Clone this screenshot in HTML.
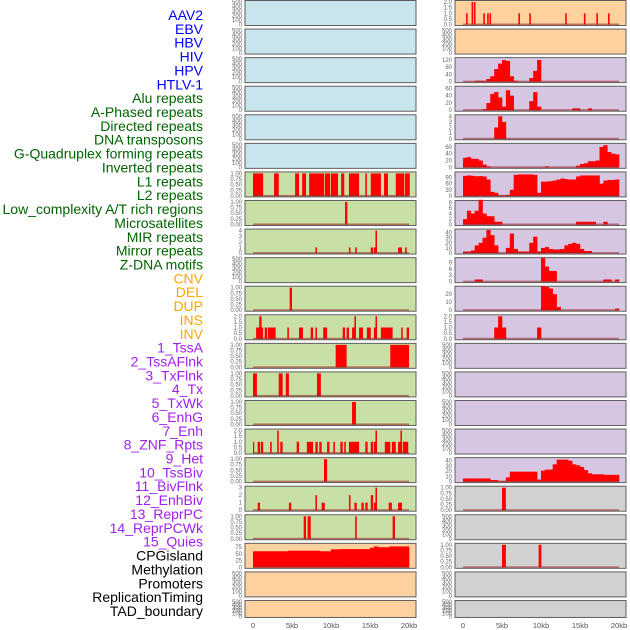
<!DOCTYPE html>
<html><head><meta charset="utf-8"><style>
html,body{margin:0;padding:0;background:#fff;}
svg{display:block;}
</style></head><body>
<svg id="chart" width="630" height="630" viewBox="0 0 630 630" xmlns="http://www.w3.org/2000/svg"></svg>
<script>
// ---- labels ----
const featureLabels = ["AAV2","EBV","HBV","HIV","HPV","HTLV-1","Alu repeats","A-Phased repeats","Directed repeats","DNA transposons","G-Quadruplex forming repeats","Inverted repeats","L1 repeats","L2 repeats","Low_complexity A/T rich regions","Microsatellites","MIR repeats","Mirror repeats","Z-DNA motifs","CNV","DEL","DUP","INS","INV","1_TssA","2_TssAFlnk","3_TxFlnk","4_Tx","5_TxWk","6_EnhG","7_Enh","8_ZNF_Rpts","9_Het","10_TssBiv","11_BivFlnk","12_EnhBiv","13_ReprPC","14_ReprPCWk","15_Quies","CPGisland","Methylation","Promoters","ReplicationTiming","TAD_boundary"];
const labelGroups = [6,13,5,15,5];
const groupColors = ["#0000ff","#006400","#ffa500","#a020f0","#000000"];
const xTickValues = [0,5,10,15,20];
const xTickLabels = ["0","5kb","10kb","15kb","20kb"];
const ticksEmpty = ["0","100","200","300","400","500"];
const ticksUnit = ["0.00","0.25","0.50","0.75","1.00"];
const ticksTwo = ["0.0","0.5","1.0","1.5","2.0"];

// ---- left column segment data: [startKb, endKb, value] ----
const segL6 = [[0,1.3,1],[2.7,3.3,1],[5.4,5.9,1],[6.3,6.8,1],[7.2,9.1,1],[9.2,9.9,1],[10,10.9,1],[11.3,11.7,1],[12.3,13.6,1],[14.4,14.6,1],[15.1,16.4,1],[16.8,17.3,1],[18.3,19.4,1],[19.5,20.1,1]];
const segL7 = [[11.8,12.1,1]];
const segL8 = [[8.0,8.2,1],[12.3,12.5,1],[13.1,13.3,1],[15.1,15.4,1],[15.5,15.9,1],[15.7,15.9,4],[18.6,19.1,1],[19.5,19.7,1]];
const segL10 = [[4.7,5.0,1]];
const segL11 = [[0.4,1.3,1],[0.8,1.1,2],[1.5,1.8,1],[1.9,2.9,1],[4.4,4.6,1],[5.9,6.4,1],[7.4,7.7,1],[8,8.2,1],[9,9.5,1],[11.5,11.8,1],[12,12.3,1],[12.7,13.2,1],[13.0,13.2,2],[13.6,14.1,1],[14.6,15.1,1],[15.5,15.9,1],[15.7,15.9,2],[16.4,17.9,1],[19,19.2,1],[19.7,20,1]];
const segL12 = [[10.6,12.0,1],[17.6,20,1]];
const segL13 = [[0,0.5,1],[3.3,3.8,1],[4.2,4.6,1],[8.2,8.7,1]];
const segL14 = [[12.7,13.2,1]];
const segL15 = [[0,0.15,1],[0.6,0.9,1],[1,1.3,1],[2.2,2.4,1],[3.1,3.3,2],[3.5,3.8,1],[5.6,5.9,1],[6.9,7.7,1],[8,8.3,1],[8.5,8.8,1],[9.5,9.8,1],[10.3,10.5,1],[11.2,11.5,1],[11.7,11.9,1],[12.3,13.6,1],[14.4,14.7,1],[15.1,15.4,1],[15.5,15.9,1],[15.7,15.9,2],[16.9,17.6,1],[17.8,18.3,1],[18.6,19.1,1],[18.9,19.1,2],[19.2,19.9,1]];
const segL16 = [[9.1,9.5,1]];
const segL17 = [[0.6,0.9,1],[4.6,4.9,1],[8,8.2,2],[8.8,9.2,1],[12.3,12.5,2],[13,13.3,1],[13.9,14.2,1],[14.4,14.7,1],[15.1,15.4,2],[15.5,15.9,1],[15.7,15.9,3],[17.4,17.8,1],[18.6,19.1,1]];
const segL18 = [[6.5,6.8,1],[7,7.4,1],[13.1,13.3,1],[17.9,18.2,1]];
const histL19 = [60,60,60,60,60,60,60,60,60,62,62,62,62,62,62,62,62,60,60,60,67,67,68,68,68,68,68,68,68,68,73,78,75,75,75,78,78,78,78,78];

// ---- right column data ----
const segR0 = [[0.4,0.6,1],[1.1,1.3,2],[1.4,1.6,2],[2.6,2.8,1],[3.1,3.3,1],[3.4,3.6,1],[7.1,7.3,1],[8.5,8.7,1],[13.1,13.3,1],[15.5,15.7,1],[17.1,17.3,1],[18.6,18.8,1]];
const histR2 = [0,0,0,5,5,5,15,30,70,100,120,115,30,5,0,0,0,20,60,120,0,0,0,0,0,0,0,0,0,0,0,0,0,0,0,0,0,0,0,0];
const histR3 = [0,0,0,0,0,3,20,45,50,35,10,55,40,0,0,0,0,25,50,10,0,0,0,0,0,0,0,0,5,5,0,0,5,0,0,0,0,0,0,0];
const histR4 = [0,0,0,0,0,0,0,0,2,4,3,0,0,0,0,0,0,0,0,0,0,0,0,0,0,0,0,0,0,0,0,0,0,0,0,0,0,0,0,0];
const histR5 = [28,30,25,25,20,8,3,0,0,0,0,0,0,0,0,0,0,0,0,0,0,3,0,0,0,0,0,0,0,5,10,12,18,18,20,60,65,45,40,38];
const histR6 = [98,100,98,96,97,95,80,20,15,3,3,5,30,103,105,105,105,105,103,15,70,70,72,75,80,85,82,80,80,95,100,100,100,100,100,60,75,78,78,80];
const histR7 = [2,5,4,5,9,4,3,3,1,1,0,0,0,0,0,0,0,0,0,0,0,0,0,0,0,0,0,0,0,1,1,1,1,1,0,0,1,0,0,0];
const histR8 = [3,3,5,15,20,30,45,35,15,0,0,10,38,8,3,3,3,20,32,3,10,12,8,7,7,8,15,18,20,18,8,4,4,0,0,0,0,0,0,0];
const histR9 = [0,0,0,1,1,0,0,0,0,0,0,0,0,0,0,0,0,0,0,0,11,7,5,5,0,0,0,0,0,0,0,0,0,0,0,0,1,1,0,1];
const histR10 = [0,0,0,0,0,0,0,0,0,0,0,0,0,0,0,0,0,0,0,0,30,29,27,20,4,0,0,0,0,0,0,0,0,0,0,0,0,0,0,2];
const histR11 = [0,0,0,0,0,0,0,0,1,2,1,0,0,0,0,0,0,0,0,1,0,0,0,0,0,0,0,0,0,0,0,0,0,0,0,0,0,0,0,0];
const histR16 = [6,6,6,6,6,6,6,3,3,1,1,8,19,19,19,19,19,19,19,4,21,23,23,33,42,42,42,40,33,31,28,22,16,14,14,14,13,13,13,13];
const segR17 = [[5,5.5,1]];
const segR19 = [[5,5.5,1],[9.7,10.05,1]];

const BLUE="#c8e4ec", GREEN="#c8e0a6", ORANGE="#ffd19f", PURPLE="#d6c6e2", GREY="#d1d1d1";
// panel layout: [col,row,bg,tickLabels,tickValues,domainMax,kind,data]
const panels = [
 [0,0,BLUE,ticksEmpty,null,500,"none",null],[0,1,BLUE,ticksEmpty,null,500,"none",null],
 [0,2,BLUE,ticksEmpty,null,500,"none",null],[0,3,BLUE,ticksEmpty,null,500,"none",null],
 [0,4,BLUE,ticksEmpty,null,500,"none",null],[0,5,BLUE,ticksEmpty,null,500,"none",null],
 [0,6,GREEN,ticksUnit,null,1,"seg",segL6],[0,7,GREEN,ticksUnit,null,1,"seg",segL7],
 [0,8,GREEN,["0","1","2","3","4"],null,4,"seg",segL8],[0,9,GREEN,ticksEmpty,null,500,"none",null],
 [0,10,GREEN,ticksUnit,null,1,"seg",segL10],[0,11,GREEN,ticksTwo,null,2,"seg",segL11],
 [0,12,GREEN,ticksUnit,null,1,"seg",segL12],[0,13,GREEN,ticksUnit,null,1,"seg",segL13],
 [0,14,GREEN,ticksUnit,null,1,"seg",segL14],[0,15,GREEN,ticksTwo,null,2,"seg",segL15],
 [0,16,GREEN,ticksUnit,null,1,"seg",segL16],[0,17,GREEN,["0","1","2","3"],null,3,"seg",segL17],
 [0,18,GREEN,ticksUnit,null,1,"seg",segL18],[0,19,ORANGE,["0","25","50","75"],[0,25,50,75],84,"hist",histL19],
 [0,20,ORANGE,ticksEmpty,null,500,"none",null],[0,21,ORANGE,ticksEmpty,null,500,"none",null],
 [1,0,ORANGE,ticksTwo,null,2,"seg",segR0],[1,1,ORANGE,ticksEmpty,null,500,"none",null],
 [1,2,PURPLE,["0","40","80","120"],[0,40,80,120],125,"hist",histR2],
 [1,3,PURPLE,["0","20","40","60"],[0,20,40,60],62,"hist",histR3],
 [1,4,PURPLE,["0","1","2","3","4"],null,4,"hist",histR4],
 [1,5,PURPLE,["0","20","40","60"],[0,20,40,60],66,"hist",histR5],
 [1,6,PURPLE,["0","30","60","90"],[0,30,60,90],110,"hist",histR6],
 [1,7,PURPLE,["0","2","4","6","8"],[0,2,4,6,8],8.2,"hist",histR7],
 [1,8,PURPLE,["0","10","20","30","40"],[0,10,20,30,40],44,"hist",histR8],
 [1,9,PURPLE,["0","3","6","9"],[0,3,6,9],10.5,"hist",histR9],
 [1,10,PURPLE,["0","10","20"],[0,10,20],28,"hist",histR10],
 [1,11,PURPLE,ticksTwo,null,2,"hist",histR11],
 [1,12,PURPLE,ticksEmpty,null,500,"none",null],[1,13,PURPLE,ticksEmpty,null,500,"none",null],
 [1,14,PURPLE,ticksEmpty,null,500,"none",null],[1,15,PURPLE,ticksEmpty,null,500,"none",null],
 [1,16,PURPLE,["0","10","20","30","40"],[0,10,20,30,40],43,"hist",histR16],
 [1,17,GREY,ticksUnit,null,1,"seg",segR17],[1,18,GREY,ticksEmpty,null,500,"none",null],
 [1,19,GREY,ticksUnit,null,1,"seg",segR19],[1,20,GREY,ticksEmpty,null,500,"none",null],
 [1,21,GREY,ticksEmpty,null,500,"none",null]
];

const svg = document.getElementById('chart');
const NS = "http://www.w3.org/2000/svg";
function mk(tag, attrs){ const e=document.createElementNS(NS,tag); for(const k in attrs) e.setAttribute(k,attrs[k]); svg.appendChild(e); return e; }

// labels
let gi=0, gc=0;
featureLabels.forEach((lab,i)=>{
  while(gc>=labelGroups[gi]){ gi++; gc=0; }
  gc++;
  const t = mk('text',{x:203,y:20+i*13.86,'text-anchor':'end','font-family':'Liberation Sans, sans-serif','font-size':'14',fill:groupColors[gi]});
  t.textContent = lab;
  
  
});

const PW=171;
function colX(c){ return c===0?245:455; }
function rowT(r){ return 0.5 + r*28.57; }
function rowH(r){ return r===21?17:25; }

panels.forEach(p=>{
  const [c,r,bg,tl,tv,max,kind,data]=p;
  const x0=colX(c), t=rowT(r), h=rowH(r);
  const base=t+h-1, span=h-2.5;
  const xs = kb => x0+8+kb*7.8;
  const ys = v => base - v/max*span;
  const bgRect = mk('rect',{x:x0,y:t,width:PW,height:h,fill:bg,stroke:'#5e5e5e','stroke-width':1});
  
  
  // ticks
  tl.forEach((lab,i)=>{
    const v = tv ? tv[i] : (max===500 ? i*100 : max*i/(tl.length-1));
    const tx = mk('text',{x:x0-3,y:ys(v)+2,'text-anchor':'end','font-family':'Liberation Sans, sans-serif','font-size':'6',fill:'#666'});
    tx.textContent = lab;
    
    
  });
  if(kind==="none") return;
  if(kind==="seg"){
    data.forEach(s=>{
      const b = mk('rect',{x:xs(s[0]),y:ys(s[2]),width:Math.max(1.2,xs(s[1])-xs(s[0])),height:base-ys(s[2]),fill:'#ff0000'});
      
      
    });
  } else {
    data.forEach((v,i)=>{
      if(v<=0) return;
      const b = mk('rect',{x:xs(i*0.5),y:ys(v),width:xs((i+1)*0.5)-xs(i*0.5)+0.3,height:base-ys(v),fill:'#ff0000'});
      
      
    });
  }
  const bl = mk('rect',{x:xs(0),y:base-1,width:xs(20)-xs(0),height:1.6,fill:'rgba(150,30,30,0.55)'});
  
  
});

// x axes
[0,1].forEach(c=>{
  xTickValues.forEach((v,i)=>{
    const tx = mk('text',{x:colX(c)+8+v*7.8,y:628,'text-anchor':'middle','font-family':'Liberation Sans, sans-serif','font-size':'7.5',fill:'#555'});
    tx.textContent = xTickLabels[i];
    
    
  });
});
</script>
</body></html>
